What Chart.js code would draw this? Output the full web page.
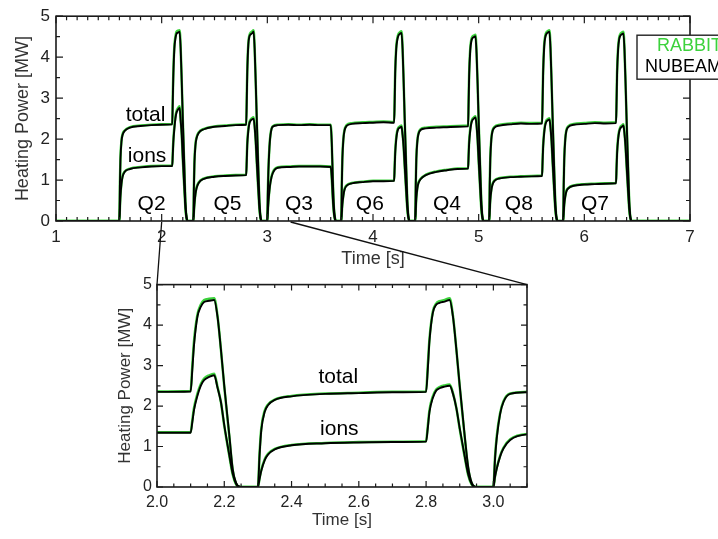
<!DOCTYPE html>
<html>
<head>
<meta charset="utf-8">
<title>Heating Power</title>
<script src="https://cdn.jsdelivr.net/npm/chart.js@4.4.1/dist/chart.umd.min.js"></script>
<style>
  html, body { margin: 0; padding: 0; background: #fff; }
  body { width: 718px; height: 539px; position: relative; overflow: hidden; }
  canvas { position: absolute; }
  #mainChart { left: 0; top: 0; }
  #zoomChart { left: 100px; top: 270px; }
  #links { left: 0; top: 0; pointer-events: none; }
</style>
</head>
<body>
<canvas id="mainChart" width="718" height="270"></canvas>
<canvas id="zoomChart" width="440" height="269"></canvas>
<canvas id="links" width="718" height="539"></canvas>
<script>
// time base [s], one line per shot phase (Q2, Q5, Q3, Q6, Q4, Q8, Q7)
const time = [
  1.0,
  1.6, 1.605, 1.61, 1.62, 1.63, 1.65, 1.7, 1.8, 1.9, 2.0, 2.1, 2.105, 2.11, 2.12, 2.13, 2.14, 2.155, 2.17, 2.18, 2.19, 2.2, 2.215, 2.225, 2.235, 2.247,
  2.3, 2.305, 2.31, 2.32, 2.33, 2.35, 2.4, 2.5, 2.6, 2.7, 2.8, 2.805, 2.81, 2.82, 2.83, 2.84, 2.855, 2.87, 2.88, 2.89, 2.9, 2.915, 2.925, 2.935, 2.947,
  3.0, 3.005, 3.01, 3.02, 3.03, 3.05, 3.1, 3.2, 3.3, 3.4, 3.5, 3.6, 3.61, 3.62, 3.63, 3.64, 3.65,
  3.7, 3.705, 3.71, 3.72, 3.73, 3.75, 3.8, 3.9, 4.0, 4.1, 4.2, 4.205, 4.21, 4.22, 4.23, 4.24, 4.255, 4.27, 4.28, 4.29, 4.3, 4.315, 4.325, 4.335, 4.347,
  4.4, 4.405, 4.41, 4.42, 4.43, 4.45, 4.5, 4.6, 4.7, 4.8, 4.9, 4.905, 4.91, 4.92, 4.93, 4.94, 4.955, 4.97, 4.98, 4.99, 5.0, 5.015, 5.025, 5.035, 5.047,
  5.1, 5.105, 5.11, 5.12, 5.13, 5.15, 5.2, 5.3, 5.4, 5.5, 5.6, 5.605, 5.61, 5.62, 5.63, 5.64, 5.655, 5.67, 5.68, 5.69, 5.7, 5.715, 5.725, 5.735, 5.747,
  5.8, 5.805, 5.81, 5.82, 5.83, 5.85, 5.9, 6.0, 6.1, 6.2, 6.3, 6.305, 6.31, 6.32, 6.33, 6.34, 6.355, 6.37, 6.38, 6.39, 6.4, 6.415, 6.425, 6.435, 6.447,
  7.0
];

// NUBEAM heating power [MW]
const totalNubeam = [
  0,
  0, 0.9, 1.5, 1.95, 2.1, 2.2, 2.28, 2.32, 2.34, 2.35, 2.36, 2.9, 3.5, 4.2, 4.45, 4.57, 4.6, 4.62, 4.2, 3.4, 2.5, 1.28, 0.45, 0.1, 0,
  0, 0.8, 1.4, 1.85, 2.02, 2.15, 2.24, 2.3, 2.32, 2.34, 2.35, 2.9, 3.6, 4.3, 4.5, 4.55, 4.58, 4.62, 4.2, 3.4, 2.5, 1.25, 0.5, 0.12, 0,
  0, 0.7, 1.2, 1.8, 2.1, 2.3, 2.34, 2.35, 2.34, 2.35, 2.34, 2.34, 1.9, 1.0, 0.35, 0.08, 0,
  0, 0.9, 1.5, 2.0, 2.2, 2.32, 2.37, 2.39, 2.4, 2.41, 2.4, 2.9, 3.6, 4.2, 4.42, 4.52, 4.57, 4.59, 4.2, 3.4, 2.5, 1.25, 0.5, 0.12, 0,
  0, 0.9, 1.5, 1.95, 2.12, 2.22, 2.26, 2.28, 2.29, 2.3, 2.31, 2.9, 3.55, 4.15, 4.38, 4.46, 4.49, 4.51, 4.1, 3.35, 2.45, 1.25, 0.5, 0.12, 0,
  0, 0.9, 1.5, 2.0, 2.18, 2.28, 2.33, 2.36, 2.38, 2.37, 2.38, 2.9, 3.6, 4.25, 4.48, 4.56, 4.6, 4.62, 4.2, 3.4, 2.5, 1.25, 0.5, 0.12, 0,
  0, 0.9, 1.5, 2.0, 2.2, 2.3, 2.35, 2.37, 2.39, 2.38, 2.39, 2.9, 3.6, 4.2, 4.44, 4.52, 4.56, 4.58, 4.18, 3.38, 2.48, 1.25, 0.5, 0.12, 0,
  0
];
const ionsNubeam = [
  0,
  0, 0.3, 0.6, 0.92, 1.08, 1.2, 1.27, 1.31, 1.33, 1.34, 1.34, 1.6, 1.9, 2.25, 2.5, 2.64, 2.72, 2.76, 2.45, 2.1, 1.53, 0.79, 0.33, 0.08, 0,
  0, 0.2, 0.4, 0.66, 0.8, 0.93, 1.03, 1.08, 1.1, 1.11, 1.12, 1.45, 1.85, 2.2, 2.38, 2.44, 2.48, 2.5, 2.3, 1.95, 1.45, 0.75, 0.32, 0.08, 0,
  0, 0.25, 0.45, 0.75, 0.95, 1.16, 1.3, 1.32, 1.33, 1.33, 1.33, 1.32, 1.05, 0.55, 0.2, 0.04, 0,
  0, 0.2, 0.4, 0.62, 0.76, 0.86, 0.92, 0.95, 0.97, 0.97, 0.98, 1.3, 1.65, 2.0, 2.18, 2.25, 2.28, 2.3, 2.1, 1.8, 1.35, 0.7, 0.3, 0.08, 0,
  0, 0.3, 0.55, 0.8, 0.92, 1.02, 1.12, 1.2, 1.24, 1.27, 1.28, 1.6, 1.9, 2.2, 2.38, 2.46, 2.5, 2.53, 2.33, 1.98, 1.48, 0.76, 0.32, 0.08, 0,
  0, 0.25, 0.5, 0.75, 0.88, 0.98, 1.04, 1.07, 1.08, 1.09, 1.1, 1.45, 1.8, 2.15, 2.34, 2.42, 2.46, 2.48, 2.28, 1.94, 1.44, 0.74, 0.32, 0.08, 0,
  0, 0.2, 0.4, 0.6, 0.72, 0.8, 0.86, 0.89, 0.9, 0.91, 0.92, 1.3, 1.65, 2.0, 2.18, 2.26, 2.3, 2.33, 2.13, 1.82, 1.36, 0.7, 0.3, 0.08, 0,
  0
];

// RABBIT heating power [MW]
const totalRabbit = [
  0,
  0, 0.95, 1.55, 1.97, 2.12, 2.21, 2.29, 2.33, 2.35, 2.36, 2.37, 3.0, 3.6, 4.25, 4.5, 4.62, 4.65, 4.66, 4.22, 3.4, 2.48, 1.25, 0.42, 0.08, 0,
  0, 0.85, 1.45, 1.88, 2.04, 2.16, 2.25, 2.31, 2.33, 2.35, 2.36, 3.0, 3.65, 4.33, 4.53, 4.59, 4.62, 4.66, 4.22, 3.4, 2.48, 1.22, 0.47, 0.1, 0,
  0, 0.75, 1.25, 1.82, 2.12, 2.31, 2.35, 2.36, 2.35, 2.36, 2.35, 2.35, 1.88, 0.98, 0.33, 0.07, 0,
  0, 0.95, 1.55, 2.02, 2.22, 2.34, 2.39, 2.41, 2.42, 2.43, 2.42, 3.0, 3.65, 4.25, 4.46, 4.56, 4.61, 4.63, 4.22, 3.4, 2.48, 1.22, 0.47, 0.1, 0,
  0, 0.95, 1.55, 1.97, 2.14, 2.24, 2.28, 2.3, 2.31, 2.32, 2.33, 3.0, 3.6, 4.2, 4.42, 4.5, 4.53, 4.55, 4.12, 3.35, 2.43, 1.22, 0.47, 0.1, 0,
  0, 0.95, 1.55, 2.02, 2.2, 2.3, 2.35, 2.38, 2.4, 2.39, 2.4, 3.0, 3.65, 4.3, 4.52, 4.6, 4.64, 4.66, 4.22, 3.4, 2.48, 1.22, 0.47, 0.1, 0,
  0, 0.95, 1.55, 2.02, 2.22, 2.32, 2.37, 2.39, 2.41, 2.4, 2.41, 3.0, 3.65, 4.25, 4.48, 4.56, 4.6, 4.62, 4.2, 3.38, 2.46, 1.22, 0.47, 0.1, 0,
  0
];
const ionsRabbit = [
  0,
  0, 0.33, 0.63, 0.94, 1.1, 1.21, 1.28, 1.32, 1.34, 1.35, 1.35, 1.65, 1.95, 2.3, 2.54, 2.68, 2.76, 2.8, 2.47, 2.1, 1.51, 0.77, 0.31, 0.07, 0,
  0, 0.22, 0.42, 0.68, 0.82, 0.94, 1.04, 1.09, 1.11, 1.12, 1.13, 1.5, 1.9, 2.24, 2.41, 2.47, 2.51, 2.53, 2.32, 1.95, 1.43, 0.73, 0.3, 0.07, 0,
  0, 0.27, 0.47, 0.77, 0.97, 1.18, 1.31, 1.33, 1.34, 1.34, 1.34, 1.33, 1.03, 0.53, 0.19, 0.04, 0,
  0, 0.22, 0.42, 0.64, 0.78, 0.87, 0.93, 0.96, 0.98, 0.98, 0.99, 1.35, 1.7, 2.04, 2.21, 2.28, 2.31, 2.33, 2.12, 1.8, 1.33, 0.68, 0.28, 0.07, 0,
  0, 0.32, 0.57, 0.82, 0.94, 1.03, 1.13, 1.21, 1.25, 1.28, 1.29, 1.65, 1.95, 2.24, 2.41, 2.49, 2.53, 2.56, 2.35, 1.98, 1.46, 0.74, 0.3, 0.07, 0,
  0, 0.27, 0.52, 0.77, 0.9, 0.99, 1.05, 1.08, 1.09, 1.1, 1.11, 1.5, 1.85, 2.19, 2.37, 2.45, 2.49, 2.51, 2.3, 1.94, 1.42, 0.72, 0.3, 0.07, 0,
  0, 0.22, 0.42, 0.62, 0.74, 0.81, 0.87, 0.9, 0.91, 0.92, 0.93, 1.35, 1.7, 2.04, 2.21, 2.29, 2.33, 2.36, 2.15, 1.82, 1.34, 0.68, 0.28, 0.07, 0,
  0
];

// text written inside the plots, placed in data units
const mainNotes = ['total', 'ions', 'Q2', 'Q5', 'Q3', 'Q6', 'Q4', 'Q8', 'Q7'];
const mainNoteX = [1.848, 1.862, 1.905, 2.623, 3.30, 3.97, 4.70, 5.38, 6.10];
const mainNoteY = [2.43, 1.435, 0.28, 0.28, 0.28, 0.28, 0.28, 0.28, 0.28];
const zoomNotes = ['total', 'ions'];
const zoomNoteX = [2.539, 2.542];
const zoomNoteY = [2.56, 1.28];

const codes = ['RABBIT', 'NUBEAM'];
const codeColors = ['#3cd23c', '#000000'];

// zoom window [s] and where the guide lines leave the main time axis
const zoomRange = [2.0, 3.1];
const linkFrom = [2.0, 3.22];

const FONT = '"Liberation Sans", Arial, sans-serif';
Chart.defaults.font.family = FONT;
Chart.defaults.color = '#222';

function points(values) {
  return time.map((t, i) => ({ x: t, y: values[i] }));
}

function makeDatasets() {
  const line = (label, values, color, width) => ({
    label: label,
    data: points(values),
    borderColor: color,
    borderWidth: width,
    pointRadius: 0,
    cubicInterpolationMode: 'monotone',
    fill: false
  });
  // NUBEAM first so it is painted over RABBIT
  return [
    line('NUBEAM total', totalNubeam, codeColors[1], 1.9),
    line('NUBEAM ions', ionsNubeam, codeColors[1], 1.9),
    line('RABBIT total', totalRabbit, codeColors[0], 2.5),
    line('RABBIT ions', ionsRabbit, codeColors[0], 2.5)
  ];
}

function tickMarks(ctx, scale, t, area, horizontal) {
  const n = Math.round((scale.max - scale.min) / t.minor);
  for (let i = 0; i <= n; i++) {
    const p = scale.getPixelForValue(scale.min + i * t.minor);
    const len = i % t.every === 0 ? t.major : t.short;
    if (horizontal) {
      ctx.moveTo(p, area.bottom); ctx.lineTo(p, area.bottom - len);
      ctx.moveTo(p, area.top); ctx.lineTo(p, area.top + len);
    } else {
      ctx.moveTo(area.left, p); ctx.lineTo(area.left + len, p);
      ctx.moveTo(area.right, p); ctx.lineTo(area.right - len, p);
    }
  }
}

// box round the plot with inward ticks on all four sides
const framePlugin = {
  id: 'frame',
  afterDatasetsDraw(chart, args, opts) {
    const { ctx, chartArea: a, scales } = chart;
    ctx.save();
    ctx.strokeStyle = '#1a1a1a';
    ctx.lineWidth = 1.2;
    ctx.beginPath();
    tickMarks(ctx, scales.x, opts.x, a, true);
    tickMarks(ctx, scales.y, opts.y, a, false);
    ctx.stroke();
    ctx.lineWidth = 1.6;
    ctx.strokeRect(a.left, a.top, a.right - a.left, a.bottom - a.top);
    ctx.restore();
  }
};

const notesPlugin = {
  id: 'notes',
  afterDatasetsDraw(chart, args, opts) {
    const { ctx, scales } = chart;
    ctx.save();
    ctx.font = opts.size + 'px ' + FONT;
    ctx.fillStyle = '#000';
    ctx.textAlign = 'center';
    ctx.textBaseline = 'alphabetic';
    opts.text.forEach((s, i) => {
      ctx.fillText(s, scales.x.getPixelForValue(opts.x[i]), scales.y.getPixelForValue(opts.y[i]));
    });
    ctx.restore();
  }
};

// legend box sitting on the right edge of the main frame
const codeLegend = {
  id: 'codeLegend',
  afterDraw(chart) {
    const { ctx, chartArea: a } = chart;
    const left = a.right - 53, top = a.top + 19;
    ctx.save();
    ctx.fillStyle = '#fff';
    ctx.fillRect(left, top, 120, 44);
    ctx.strokeStyle = '#222';
    ctx.lineWidth = 1.4;
    ctx.strokeRect(left, top, 120, 44);
    ctx.font = '18px ' + FONT;
    ctx.textAlign = 'right';
    ctx.textBaseline = 'alphabetic';
    codes.forEach((name, i) => {
      ctx.fillStyle = codeColors[i];
      ctx.fillText(name, left + 85, top + 16 + i * 20.5);
    });
    ctx.restore();
  }
};

function axes(x, y) {
  return {
    x: {
      type: 'linear',
      min: x.min,
      max: x.max,
      grid: { display: false, drawTicks: false },
      border: { display: false },
      ticks: {
        stepSize: x.step,
        includeBounds: false,
        padding: x.pad,
        font: { size: x.size },
        maxRotation: 0,
        callback: x.format
      },
      title: { display: true, text: 'Time [s]', color: '#333', font: { size: x.titleSize }, padding: { top: 0, bottom: x.titlePad } },
      afterFit: s => { s.height = x.height; }
    },
    y: {
      type: 'linear',
      min: 0,
      max: 5,
      grid: { display: false, drawTicks: false },
      border: { display: false },
      ticks: { stepSize: 1, padding: y.pad, font: { size: y.size } },
      title: { display: true, text: 'Heating Power [MW]', color: '#333', font: { size: y.titleSize }, padding: { top: y.titlePad, bottom: 0 } },
      afterFit: s => { s.width = y.width; }
    }
  };
}

const mainChart = new Chart(document.getElementById('mainChart'), {
  type: 'line',
  data: { datasets: makeDatasets() },
  options: {
    responsive: false,
    animation: false,
    devicePixelRatio: 1,
    layout: { padding: { top: 5, right: 28, left: 0, bottom: 0 } },
    scales: axes(
      { min: 1, max: 7, step: 1, pad: 6, size: 17, titleSize: 18, titlePad: 0, height: 49, format: v => v },
      { pad: 6, size: 17, titleSize: 18, titlePad: 12, width: 56 }
    ),
    plugins: {
      legend: { display: false },
      tooltip: { enabled: false },
      frame: { x: { minor: 0.1, every: 10, major: 7, short: 4 }, y: { minor: 0.5, every: 2, major: 7, short: 4 } },
      notes: { text: mainNotes, x: mainNoteX, y: mainNoteY, size: 21 }
    }
  },
  plugins: [framePlugin, notesPlugin, codeLegend]
});

const zoomChart = new Chart(document.getElementById('zoomChart'), {
  type: 'line',
  data: { datasets: makeDatasets() },
  options: {
    responsive: false,
    animation: false,
    devicePixelRatio: 1,
    layout: { padding: { top: 14, right: 13, left: 0, bottom: 0 } },
    scales: axes(
      { min: zoomRange[0], max: zoomRange[1], step: 0.2, pad: 6, size: 16, titleSize: 17, titlePad: 8, height: 52, format: v => v.toFixed(1) },
      { pad: 5, size: 16, titleSize: 17, titlePad: 15, width: 57 }
    ),
    plugins: {
      legend: { display: false },
      tooltip: { enabled: false },
      frame: { x: { minor: 0.05, every: 4, major: 6, short: 3.5 }, y: { minor: 0.5, every: 2, major: 6, short: 3.5 } },
      notes: { text: zoomNotes, x: zoomNoteX, y: zoomNoteY, size: 21 }
    }
  },
  plugins: [framePlugin, notesPlugin]
});

// guide lines from the zoomed time window down to the corners of the lower plot
function drawLinks() {
  const canvas = document.getElementById('links');
  const ctx = canvas.getContext('2d');
  const zoomBox = document.getElementById('zoomChart');
  const za = zoomChart.chartArea;
  const y0 = mainChart.chartArea.bottom + 1;
  const ends = [zoomBox.offsetLeft + za.left, zoomBox.offsetLeft + za.right];
  ctx.strokeStyle = '#111';
  ctx.lineWidth = 1.3;
  ctx.beginPath();
  linkFrom.forEach((t, i) => {
    ctx.moveTo(mainChart.scales.x.getPixelForValue(t), y0);
    ctx.lineTo(ends[i], zoomBox.offsetTop + za.top);
  });
  ctx.stroke();
}

drawLinks();
</script>
</body>
</html>
